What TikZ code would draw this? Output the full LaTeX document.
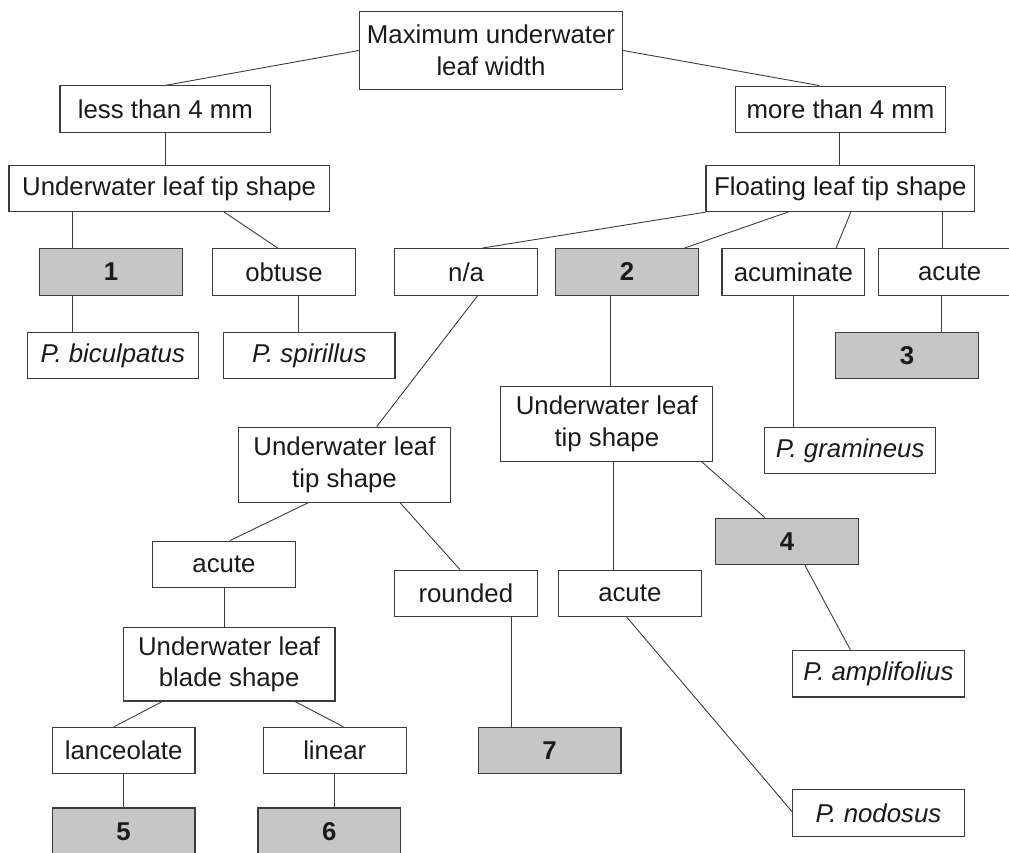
\documentclass[tikz,border=0pt]{standalone}
\usepackage{fontspec}
\setmainfont{Liberation Sans}
\definecolor{edge}{HTML}{3C3C3C}
\definecolor{shade}{HTML}{C6C6C6}
\definecolor{ink}{HTML}{1A1A1A}
\tikzset{
  box/.style={draw=edge, line width=1.1pt, fill=white, inner sep=0pt, align=center,
    text=ink, font=\fontsize{25.8}{31.5}\selectfont, minimum height=46.5pt},
  small/.style={box, minimum width=142.7pt},
  species/.style={box, minimum width=171.3pt, font=\fontsize{25.8}{31.5}\selectfont\itshape},
  numbox/.style={small, fill=shade, font=\fontsize{25.8}{31.5}\selectfont\bfseries},
  twoline/.style={box, minimum height=75pt},
  conn/.style={draw=edge, line width=0.9pt}
}
\begin{document}
\begin{tikzpicture}[x=1pt,y=-1pt]
\useasboundingbox (0,0) rectangle (1009,852);
\clip (0,0) rectangle (1009,852);
\fill[white] (0,0) rectangle (1009,852);

% nodes
\node[twoline, minimum width=263.4pt, minimum height=77.6pt] (top) at (491,50.5) {Maximum underwater\\leaf width};
\node[box, minimum width=210.7pt] (less) at (165.35,109.15) {less than 4 mm};
\node[box, minimum width=210pt] (more) at (840.5,109.35) {more than 4 mm};
\node[box, minimum width=320.3pt] (ultipL) at (169.15,188.35) {Underwater leaf tip shape};
\node[box, minimum width=268.6pt] (float) at (840.3,188.35) {Floating leaf tip shape};

\node[numbox] (n1) at (111.15,271.8) {1};
\node[small] (obtuse) at (284,271.8) {obtuse};
\node[small] (na) at (466.15,271.8) {n/a};
\node[numbox] (n2) at (627.15,271.8) {2};
\node[small] (acuminate) at (793.35,271.8) {acuminate};
\node[small] (acuteR) at (949.6,271.8) {acute};

\node[species] (bic) at (112.8,355.65) {P. biculpatus};
\node[species] (spi) at (309.35,355.65) {P. spirillus};
\node[numbox] (n3) at (906.95,355.65) {3};

\node[twoline, minimum width=211.9pt] (ultwo) at (606.85,424) {Underwater leaf\\tip shape};
\node[species] (gram) at (850.1,450.5) {P. gramineus};
\node[twoline, minimum width=211.6pt] (ulc) at (344.5,464.65) {Underwater leaf\\tip shape};
\node[numbox] (n4) at (787,541.5) {4};
\node[small] (acuteL) at (224,564.35) {acute};
\node[small] (rounded) at (465.85,593.35) {rounded};
\node[small] (acuteM) at (629.8,593.35) {acute};
\node[twoline, minimum width=211.7pt, minimum height=73.3pt] (blade) at (229.15,664.35) {Underwater leaf\\blade shape};
\node[species] (ampl) at (878.45,673.7) {P. amplifolius};
\node[small] (lanc) at (123.65,750.5) {lanceolate};
\node[small] (linear) at (334.8,750.5) {linear};
\node[numbox] (n7) at (549.65,750.35) {7};
\node[numbox] (n5) at (123.65,831.25) {5};
\node[numbox] (n6) at (329.35,831.25) {6};
\node[species] (nod) at (878.45,812.85) {P. nodosus};

% connectors
\draw[conn] (top.west) -- (less.north);
\draw[conn] (top.east) -- ([xshift=-21.2pt]more.north);
\draw[conn] ([xshift=0.35pt]less.south) -- ([xshift=0.35pt]less.south |- ultipL.north);
\draw[conn] ([xshift=-1pt]more.south) -- ([xshift=-1pt]more.south |- float.north);
\draw[conn] ([xshift=-38.45pt]n1.north |- ultipL.south) -- ([xshift=-38.45pt]n1.north);
\draw[conn] ([xshift=55.15pt]ultipL.south) -- ([xshift=-6.3pt]obtuse.north);
\draw[conn] ([xshift=-38.45pt]n1.south) -- ([xshift=-38.45pt]n1.south |- bic.north);
\draw[conn] ([xshift=14.7pt]obtuse.south) -- ([xshift=14.7pt]obtuse.south |- spi.north);
\draw[conn] (float.south west) -- ([xshift=16.45pt]na.north);
\draw[conn] ([xshift=-52.6pt]float.south) -- ([xshift=57.45pt]n2.north);
\draw[conn] ([xshift=10.5pt]float.south) -- ([xshift=42.75pt]acuminate.north);
\draw[conn] ([xshift=101.9pt]float.south) -- ([xshift=101.9pt]float.south |- acuteR.north);
\draw[conn] ([xshift=-8.6pt]acuteR.south) -- ([xshift=-8.6pt]acuteR.south |- n3.north);
\draw[conn] (acuminate.south) -- (acuminate.south |- gram.north);
\draw[conn] ([xshift=-16.55pt]n2.south) -- ([xshift=-16.55pt]n2.south |- ultwo.north);
\draw[conn] ([xshift=11.55pt]na.south) -- ([xshift=32.2pt]ulc.north);
\draw[conn] ([xshift=-36.2pt]ulc.south) -- ([xshift=6pt]acuteL.north);
\draw[conn] ([xshift=55.5pt]ulc.south) -- ([xshift=-5.85pt]rounded.north);
\draw[conn] ([xshift=6.45pt]ultwo.south) -- ([xshift=6.45pt]ultwo.south |- acuteM.north);
\draw[conn] ([xshift=95.15pt]ultwo.south) -- ([xshift=-22pt]n4.north);
\draw[conn] ([xshift=17.9pt]n4.south) -- ([xshift=-28.05pt]ampl.north);
\draw[conn] ([xshift=-3pt]acuteM.south) -- ([yshift=1pt]nod.west);
\draw[conn] (acuteL.south) -- (acuteL.south |- blade.north);
\draw[conn] ([xshift=-66.85pt]blade.south) -- ([xshift=-9.65pt]lanc.north);
\draw[conn] ([xshift=65.85pt]blade.south) -- ([xshift=8.5pt]linear.north);
\draw[conn] (lanc.south) -- (n5.north);
\draw[conn] (linear.south) -- (linear.south |- n6.north);
\draw[conn] ([xshift=45.55pt]rounded.south) -- ([xshift=45.55pt]rounded.south |- n7.north);
\end{tikzpicture}
\end{document}
